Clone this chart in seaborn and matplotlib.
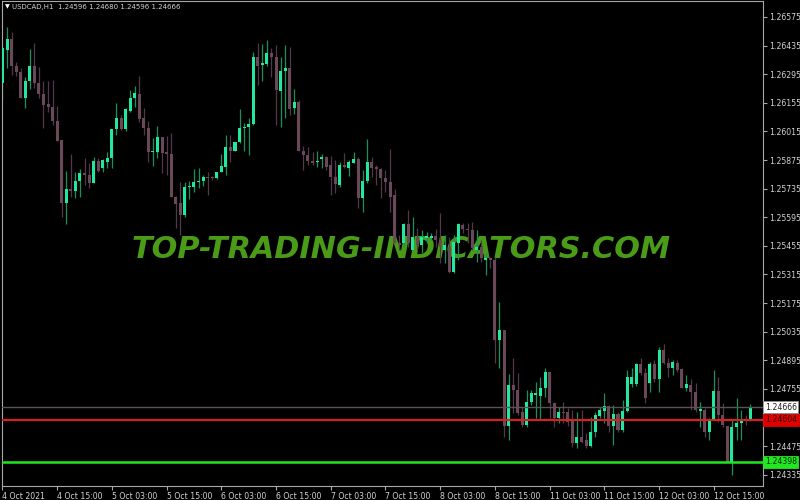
import numpy as np
import pandas as pd
import matplotlib
matplotlib.use("Agg")
import matplotlib.pyplot as plt
import seaborn as sns

# USDCAD H1 bars
symbol = "USDCAD,H1"
last_bar = "1.24596 1.24680 1.24596 1.24666"

opens = [1.26252, 1.26413, 1.26467, 1.26335, 1.26306, 1.26178, 1.26262, 1.26335, 1.26252, 1.26198,
         1.26149, 1.26134, 1.26066, 1.25973, 1.25665, 1.25733, 1.25723, 1.25772, 1.25811, 1.25801,
         1.25762, 1.25870, 1.25836, 1.25865, 1.25885, 1.26027, 1.26081, 1.26027, 1.26115, 1.26178,
         1.26198, 1.26081, 1.26032, 1.25914, 1.25914, 1.25988, 1.25914, 1.25904, 1.25694, 1.25665,
         1.25606, 1.25743, 1.25743, 1.25767, 1.25772, 1.25792, 1.25792, 1.25787, 1.25816, 1.25841,
         1.25939, 1.25919, 1.25963, 1.26032, 1.26037, 1.26051, 1.26379, 1.26340, 1.26345, 1.26399,
         1.26379, 1.26213, 1.26311, 1.26325, 1.26129, 1.26159, 1.25919, 1.25899, 1.25870, 1.25865,
         1.25880, 1.25890, 1.25851, 1.25792, 1.25753, 1.25851, 1.25836, 1.25860, 1.25880, 1.25689,
         1.25772, 1.25865, 1.25841, 1.25831, 1.25787, 1.25767, 1.25704, 1.25469, 1.25469, 1.25562,
         1.25435, 1.25498, 1.25459, 1.25493, 1.25493, 1.25503, 1.25483, 1.25435, 1.25449, 1.25327,
         1.25469, 1.25557, 1.25537, 1.25532, 1.25435, 1.25449, 1.25386, 1.25395, 1.25386, 1.24994,
         1.25043, 1.24573, 1.24774, 1.24749, 1.24642, 1.24578, 1.24691, 1.24725, 1.24720, 1.24759,
         1.24837, 1.24686, 1.24612, 1.24642, 1.24642, 1.24602, 1.24490, 1.24519, 1.24505, 1.24475,
         1.24544, 1.24622, 1.24647, 1.24671, 1.24573, 1.24632, 1.24554, 1.24647, 1.24779, 1.24779,
         1.24877, 1.24833, 1.24784, 1.24877, 1.24804, 1.24945, 1.24882, 1.24857, 1.24882, 1.24852,
         1.24759, 1.24774, 1.24740, 1.24647, 1.24652, 1.24544, 1.24603, 1.24744, 1.24627, 1.24573,
         1.24397, 1.24568, 1.24588, 1.24603, 1.24596]

highs = [1.26438, 1.26526, 1.26501, 1.26355, 1.26325, 1.26281, 1.26418, 1.26448, 1.26330, 1.26262,
         1.26262, 1.26267, 1.26139, 1.25973, 1.25821, 1.25904, 1.25816, 1.25831, 1.25885, 1.25860,
         1.25890, 1.25885, 1.25880, 1.25914, 1.26027, 1.26154, 1.26095, 1.26129, 1.26218, 1.26237,
         1.26286, 1.26129, 1.26066, 1.25983, 1.26041, 1.25988, 1.25992, 1.26007, 1.25699, 1.25767,
         1.25767, 1.25772, 1.25831, 1.25836, 1.25801, 1.25816, 1.25797, 1.25816, 1.25904, 1.25997,
         1.25997, 1.25963, 1.26125, 1.26056, 1.26081, 1.26404, 1.26448, 1.26443, 1.26462, 1.26423,
         1.26438, 1.26379, 1.26438, 1.26428, 1.26222, 1.26169, 1.25944, 1.25939, 1.25914, 1.25919,
         1.25904, 1.25895, 1.25895, 1.25875, 1.25865, 1.25909, 1.25875, 1.25914, 1.25890, 1.25826,
         1.25978, 1.25890, 1.25851, 1.25836, 1.25826, 1.25929, 1.25733, 1.25508, 1.25567, 1.25630,
         1.25596, 1.25542, 1.25533, 1.25523, 1.25518, 1.25537, 1.25616, 1.25508, 1.25498, 1.25508,
         1.25567, 1.25567, 1.25567, 1.25572, 1.25532, 1.25483, 1.25420, 1.25400, 1.25400, 1.25180,
         1.25043, 1.24828, 1.24906, 1.24833, 1.24666, 1.24749, 1.24749, 1.24789, 1.24813, 1.24857,
         1.24837, 1.24691, 1.24666, 1.24691, 1.24661, 1.24651, 1.24642, 1.24651, 1.24539, 1.24617,
         1.24642, 1.24666, 1.24735, 1.24676, 1.24676, 1.24642, 1.24700, 1.24847, 1.24857, 1.24882,
         1.24906, 1.24857, 1.24886, 1.24896, 1.24960, 1.24975, 1.24906, 1.24896, 1.24896, 1.24857,
         1.24823, 1.24803, 1.24784, 1.24691, 1.24661, 1.24612, 1.24847, 1.24813, 1.24686, 1.24573,
         1.24603, 1.24710, 1.24651, 1.24627, 1.24680]

lows = [1.26169, 1.26325, 1.26291, 1.26286, 1.26178, 1.26129, 1.26222, 1.26227, 1.26178, 1.26032,
        1.26110, 1.26046, 1.25968, 1.25596, 1.25562, 1.25694, 1.25689, 1.25694, 1.25753, 1.25738,
        1.25762, 1.25816, 1.25816, 1.25836, 1.25836, 1.25997, 1.26022, 1.26017, 1.26110, 1.26134,
        1.26061, 1.25997, 1.25865, 1.25846, 1.25885, 1.25811, 1.25801, 1.25694, 1.25542, 1.25508,
        1.25596, 1.25684, 1.25718, 1.25738, 1.25748, 1.25704, 1.25777, 1.25782, 1.25816, 1.25801,
        1.25865, 1.25919, 1.25958, 1.25919, 1.25899, 1.26046, 1.26242, 1.26262, 1.26335, 1.26281,
        1.26046, 1.26036, 1.26081, 1.26095, 1.26100, 1.25919, 1.25826, 1.25851, 1.25851, 1.25841,
        1.25836, 1.25826, 1.25704, 1.25714, 1.25743, 1.25836, 1.25797, 1.25860, 1.25640, 1.25621,
        1.25762, 1.25792, 1.25753, 1.25689, 1.25718, 1.25621, 1.25469, 1.25435, 1.25449, 1.25449,
        1.25435, 1.25435, 1.25420, 1.25469, 1.25484, 1.25449, 1.25371, 1.25371, 1.25322, 1.25322,
        1.25386, 1.25518, 1.25469, 1.25435, 1.25376, 1.25376, 1.25312, 1.25346, 1.24882, 1.24857,
        1.24519, 1.24505, 1.24637, 1.24627, 1.24568, 1.24568, 1.24676, 1.24612, 1.24603, 1.24715,
        1.24612, 1.24568, 1.24588, 1.24588, 1.24573, 1.24470, 1.24466, 1.24490, 1.24466, 1.24470,
        1.24519, 1.24612, 1.24588, 1.24544, 1.24480, 1.24544, 1.24544, 1.24642, 1.24764, 1.24769,
        1.24823, 1.24686, 1.24740, 1.24789, 1.24740, 1.24877, 1.24813, 1.24823, 1.24837, 1.24759,
        1.24745, 1.24652, 1.24642, 1.24568, 1.24519, 1.24505, 1.24603, 1.24593, 1.24568, 1.24397,
        1.24333, 1.24505, 1.24505, 1.24578, 1.24596]

closes = [1.26423, 1.26467, 1.26335, 1.26306, 1.26178, 1.26262, 1.26335, 1.26252, 1.26198, 1.26144,
          1.26134, 1.26066, 1.25968, 1.25665, 1.25733, 1.25723, 1.25772, 1.25811, 1.25801, 1.25762,
          1.25870, 1.25821, 1.25875, 1.25885, 1.26027, 1.26081, 1.26027, 1.26125, 1.26178, 1.26203,
          1.26076, 1.26032, 1.25914, 1.25919, 1.25988, 1.25909, 1.25904, 1.25694, 1.25660, 1.25606,
          1.25743, 1.25748, 1.25767, 1.25772, 1.25792, 1.25787, 1.25787, 1.25816, 1.25846, 1.25939,
          1.25919, 1.25963, 1.26032, 1.26037, 1.26051, 1.26379, 1.26335, 1.26350, 1.26399, 1.26379,
          1.26218, 1.26311, 1.26325, 1.26125, 1.26159, 1.25919, 1.25899, 1.25870, 1.25860, 1.25870,
          1.25890, 1.25841, 1.25792, 1.25758, 1.25851, 1.25841, 1.25865, 1.25880, 1.25689, 1.25772,
          1.25865, 1.25836, 1.25831, 1.25787, 1.25767, 1.25694, 1.25469, 1.25459, 1.25562, 1.25469,
          1.25498, 1.25459, 1.25498, 1.25503, 1.25503, 1.25483, 1.25449, 1.25459, 1.25327, 1.25474,
          1.25562, 1.25537, 1.25532, 1.25444, 1.25449, 1.25395, 1.25395, 1.25386, 1.24994, 1.25043,
          1.24573, 1.24774, 1.24749, 1.24637, 1.24578, 1.24691, 1.24735, 1.24735, 1.24759, 1.24837,
          1.24686, 1.24612, 1.24642, 1.24637, 1.24593, 1.24490, 1.24519, 1.24495, 1.24475, 1.24544,
          1.24627, 1.24651, 1.24671, 1.24573, 1.24632, 1.24554, 1.24647, 1.24813, 1.24813, 1.24877,
          1.24833, 1.24710, 1.24877, 1.24804, 1.24945, 1.24882, 1.24857, 1.24886, 1.24847, 1.24759,
          1.24779, 1.24740, 1.24652, 1.24656, 1.24544, 1.24603, 1.24744, 1.24627, 1.24578, 1.24397,
          1.24568, 1.24588, 1.24603, 1.24598, 1.24666]

date_ticks = [0, 12, 24, 36, 48, 60, 72, 84, 96, 108, 120, 132, 144, 156]
date_labels = ["4 Oct 2021", "4 Oct 15:00", "5 Oct 03:00", "5 Oct 15:00", "6 Oct 03:00",
               "6 Oct 15:00", "7 Oct 03:00", "7 Oct 15:00", "8 Oct 03:00", "8 Oct 15:00",
               "11 Oct 03:00", "11 Oct 15:00", "12 Oct 03:00", "12 Oct 15:00"]
price_ticks = [1.26575, 1.26435, 1.26295, 1.26155, 1.26015, 1.25875, 1.25735, 1.25595, 1.25455,
               1.25315, 1.25175, 1.25035, 1.24895, 1.24755, 1.24615, 1.24475, 1.24335]

bid_level = 1.24666
red_level = 1.24604
green_level = 1.24398

df = pd.DataFrame({"open": opens, "high": highs, "low": lows, "close": closes})
df["bar"] = np.arange(len(df))
df["up"] = df["close"] >= df["open"]

bull_body, bull_wick = "#20e8a0", "#14935f"
bear_body, bear_wick = "#6a4858", "#52384a"
txt = "#d4d4d4"
frame = "#a8a8a8"
fs = 5.6

sns.set_theme(style="dark", rc={"axes.facecolor": "black", "figure.facecolor": "black",
                                "axes.edgecolor": frame, "axes.grid": False})
plt.rcParams['font.family'] = ['DejaVu Sans']

fig = plt.figure(figsize=(8, 5), dpi=100)
ax = fig.add_axes([0.0025, 0.028, 0.95125, 0.97])

# watermark behind the candles
ax.text(0.524, 0.488, "TOP-TRADING-INDICATORS.COM", transform=ax.transAxes,
        ha="center", va="center", fontsize=21.8, fontweight="bold", fontstyle="italic",
        color="#4a9c18", zorder=1)

# wicks and bodies
wick_cols = np.where(df["up"], bull_wick, bear_wick)
body_cols = np.where(df["up"], bull_body, bear_body)
ax.vlines(df["bar"], df["low"], df["high"], colors=wick_cols, linewidth=0.9, zorder=2)
body_low = df[["open", "close"]].min(axis=1)
body_h = np.maximum((df["close"] - df["open"]).abs(), 0.00004)
ax.bar(df["bar"], body_h, bottom=body_low, width=0.66, color=body_cols, linewidth=0, zorder=3)

# horizontal levels
ax.axhline(bid_level, color="#5c5252", linewidth=1.0, zorder=4)
ax.axhline(red_level, color="#e01c1c", linewidth=1.5, zorder=4)
ax.axhline(green_level, color="#22e622", linewidth=1.8, zorder=4)

ax.set_xlim(-0.1, 166.8)
ax.set_ylim(1.24280, 1.26653)

ax.yaxis.tick_right()
ax.set_yticks(price_ticks)
ax.set_yticklabels([f"{p:.5f}" for p in price_ticks])
ax.set_xticks(date_ticks)
ax.set_xticklabels(date_labels)
plt.setp(ax.get_xticklabels(), ha="left")
ax.tick_params(axis="both", colors=frame, labelcolor=txt, labelsize=fs, length=3, width=0.8,
               direction="out", pad=1.2)
ax.tick_params(axis="y", right=True, left=False)
ax.tick_params(axis="x", bottom=True)
for s in ax.spines.values():
    s.set_color(frame)
    s.set_linewidth(0.8)
ax.set_xlabel("")
ax.set_ylabel("")

# price boxes on the right scale
ytr = ax.get_yaxis_transform()
box_style = [(bid_level, "white", "#202020", "#909090"),
             (red_level, "#e00000", "#300000", "#e00000"),
             (green_level, "#22e622", "#003000", "#22e622")]
for lvl, bg, fg, ec in box_style:
    ax.text(1.0025, lvl, f"{lvl:.5f}", transform=ytr, ha="left", va="center", fontsize=fs,
            color=fg, zorder=10, clip_on=False,
            bbox=dict(boxstyle="square,pad=0.2", facecolor=bg, edgecolor=ec, linewidth=0.6))

# header
fig.text(5 / 800, 1 - 7 / 500, "\u25bc", color="white", fontsize=4.5, va="center", ha="left")
fig.text(12 / 800, 1 - 7 / 500, f"{symbol}  {last_bar}", color=txt, fontsize=5.0,
         va="center", ha="left")

fig.savefig("out.png", dpi=100, facecolor="black")
